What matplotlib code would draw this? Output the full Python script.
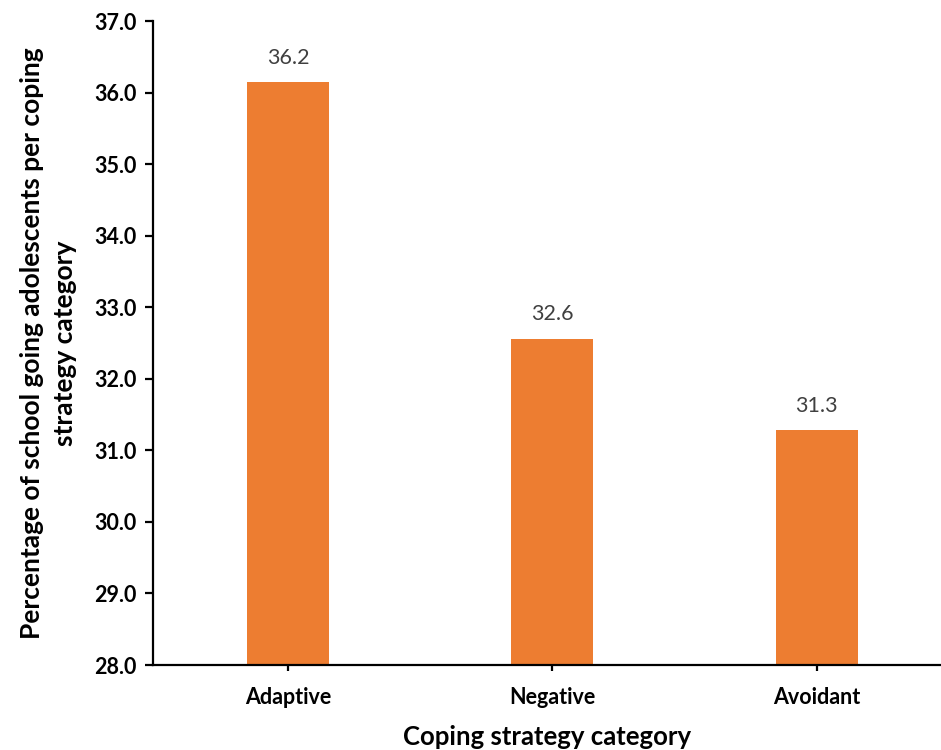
import matplotlib
matplotlib.use("Agg")
import matplotlib.pyplot as plt
from matplotlib.ticker import FormatStrFormatter

categories = ["Adaptive", "Negative", "Avoidant"]
values = [36.15, 32.56, 31.28]
value_labels = ["36.2", "32.6", "31.3"]
yticks = [28, 29, 30, 31, 32, 33, 34, 35, 36, 37]

plt.rcParams['font.family'] = ['Lato', 'DejaVu Sans']

fig = plt.figure(figsize=(9.41, 7.5), dpi=100)
ax = fig.add_axes([0.1626, 0.1133, 0.8374, 0.8587])

x = list(range(len(categories)))
ax.bar(x, [v - 28 for v in values], bottom=28, width=0.31, color="#ED7D31", zorder=2)
for xi, v, lab in zip(x, values, value_labels):
    ax.text(xi, v + 0.2, lab, ha="center", va="bottom", fontsize=15.5, color="#404040")

ax.set_ylim(28, 37)
ax.set_xlim(-0.51, 2.47)
ax.set_yticks(yticks)
ax.yaxis.set_major_formatter(FormatStrFormatter("%.1f"))
ax.set_xticks(x)
ax.set_xticklabels(categories)

for s in ["top", "right"]:
    ax.spines[s].set_visible(False)
for s in ["left", "bottom"]:
    ax.spines[s].set_linewidth(1.6)
    ax.spines[s].set_color("black")

ax.tick_params(axis="y", direction="out", length=6, width=1.6, labelsize=15.5, pad=6)
ax.tick_params(axis="x", direction="out", length=4, width=1.6, labelsize=15.5, pad=12)
for t in ax.get_yticklabels() + ax.get_xticklabels():
    t.set_fontweight("bold")

ax.set_ylabel("Percentage of school going adolescents per coping\nstrategy category",
              fontsize=19, fontweight="bold", labelpad=12, linespacing=1.45)
ax.set_xlabel("Coping strategy category", fontsize=18.5, fontweight="bold", labelpad=12)

fig.savefig("out.png", dpi=100, facecolor="white")
